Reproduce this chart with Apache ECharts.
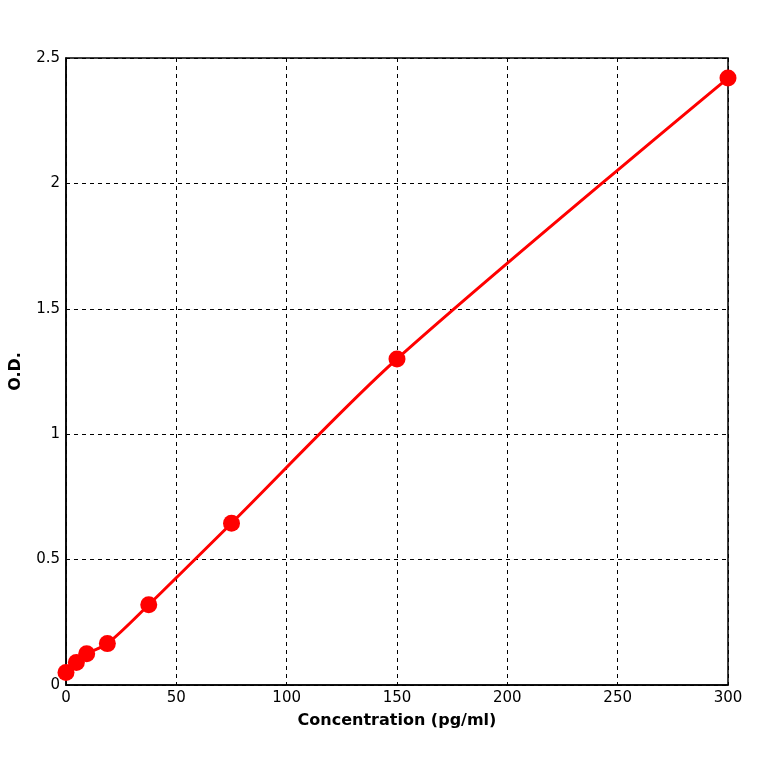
<!DOCTYPE html>
<html>
<head>
<meta charset="utf-8">
<script src="https://cdn.jsdelivr.net/npm/echarts@6/dist/echarts.min.js"></script>
<style>html,body{margin:0;background:#fff}#c{width:764px;height:764px}</style>
</head>
<body>
<div id="c"></div>
<script>
var conc = [0, 4.69, 9.38, 18.75, 37.5, 75, 150, 300];
var od = [0.05, 0.09, 0.125, 0.165, 0.32, 0.645, 1.30, 2.42];

var pts = conc.map(function (x, i) { return [x, od[i]]; });
var chart = echarts.init(document.getElementById('c'), null, {renderer: 'canvas'});
var axisFont = {color: '#000', fontFamily: 'DejaVu Sans', fontSize: 15};
chart.setOption({
    animation: false,
    backgroundColor: '#fff',
    grid: {left: 62, right: 36, top: 58, bottom: 79, show: true, borderColor: '#000', borderWidth: 1.5},
    xAxis: {
        type: 'value', min: 0, max: 300, interval: 50,
        name: 'Concentration (pg/ml)', nameLocation: 'middle', nameGap: 28,
        nameTextStyle: {color: '#000', fontWeight: 'bold', fontSize: 16, fontFamily: 'DejaVu Sans'},
        axisLine: {lineStyle: {color: '#000', width: 1.5}},
        axisTick: {show: false},
        axisLabel: Object.assign({margin: 6}, axisFont),
        splitLine: {lineStyle: {color: '#000', type: [4, 4], width: 1}}
    },
    yAxis: {
        type: 'value', min: 0, max: 2.5, interval: 0.5,
        name: 'O.D.', nameLocation: 'middle', nameGap: 42,
        nameTextStyle: {color: '#000', fontWeight: 'bold', fontSize: 16, fontFamily: 'DejaVu Sans'},
        axisLine: {lineStyle: {color: '#000', width: 1.5}},
        axisTick: {show: false},
        axisLabel: Object.assign({margin: 6}, axisFont),
        splitLine: {lineStyle: {color: '#000', type: [4, 4], width: 1}}
    },
    series: [{
        type: 'line', data: pts, smooth: 0.3,
        symbol: 'circle', symbolSize: 17,
        lineStyle: {color: '#ff0000', width: 3},
        itemStyle: {color: '#ff0000'}
    }]
});
</script>
</body>
</html>
